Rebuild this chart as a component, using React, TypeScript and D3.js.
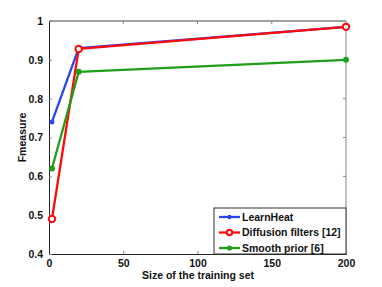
import React, { useEffect, useRef } from 'react';
import * as d3 from 'd3';

const trainSizes = [2, 20, 200];
const learnHeat = [0.74, 0.93, 0.985];
const diffusion = [0.49, 0.928, 0.985];
const smoothPrior = [0.62, 0.869, 0.9];
const xTicks = [0, 50, 100, 150, 200];
const yTicks = [0.4, 0.5, 0.6, 0.7, 0.8, 0.9, 1];

const FONT = '"Liberation Sans", Arial, sans-serif';

interface Series {
  name: string;
  values: number[];
  color: string;
  marker: 'star' | 'circle' | 'dot';
}

const series: Series[] = [
  { name: 'LearnHeat', values: learnHeat, color: '#2a45f5', marker: 'star' },
  { name: 'Diffusion filters [12]', values: diffusion, color: '#ff0a0a', marker: 'circle' },
  { name: 'Smooth prior [6]', values: smoothPrior, color: '#1f9e1a', marker: 'dot' },
];

function drawMarker(g: d3.Selection<SVGGElement, unknown, null, undefined>, s: Series, cx: number, cy: number, scale = 1) {
  if (s.marker === 'circle') {
    g.append('circle').attr('cx', cx).attr('cy', cy).attr('r', 3.2 * scale)
      .attr('fill', 'white').attr('stroke', s.color).attr('stroke-width', 2);
  } else if (s.marker === 'dot') {
    g.append('circle').attr('cx', cx).attr('cy', cy).attr('r', 3 * scale).attr('fill', s.color);
  } else {
    const r = 2.5 * scale;
    const p = `M${cx - r},${cy}L${cx + r},${cy}M${cx},${cy - r}L${cx},${cy + r}` +
      `M${cx - r * 0.7},${cy - r * 0.7}L${cx + r * 0.7},${cy + r * 0.7}` +
      `M${cx - r * 0.7},${cy + r * 0.7}L${cx + r * 0.7},${cy - r * 0.7}`;
    g.append('path').attr('d', p).attr('stroke', s.color).attr('stroke-width', 1.5).attr('fill', 'none');
  }
}

export default function App() {
  const svgRef = useRef<SVGSVGElement | null>(null);

  useEffect(() => {
    if (!svgRef.current) return;
    const W = 382;
    const H = 287;
    const M = { top: 21, right: 36, bottom: 33, left: 49 };
    const innerW = W - M.left - M.right;
    const innerH = H - M.top - M.bottom;

    const svg = d3.select(svgRef.current);
    svg.selectAll('*').remove();
    const g = svg.append('g').attr('transform', `translate(${M.left},${M.top})`);

    const x = d3.scaleLinear().domain([0, 200]).range([0, innerW]);
    const y = d3.scaleLinear().domain([0.4, 1]).range([innerH, 0]);

    // box
    g.append('line').attr('x1', 0).attr('x2', innerW).attr('y1', 0).attr('y2', 0).attr('stroke', '#444');
    g.append('line').attr('x1', innerW).attr('x2', innerW).attr('y1', 0).attr('y2', innerH).attr('stroke', '#888');

    const styleAxis = (s: d3.Selection<SVGGElement, unknown, null, undefined>) => {
      s.select('.domain').attr('stroke', '#222');
      s.selectAll('.tick line').attr('stroke', '#888');
      s.selectAll('text')
        .attr('fill', '#111')
        .attr('font-size', 10.5)
        .attr('font-weight', 'bold')
        .attr('font-family', FONT);
    };

    g.append('g')
      .attr('transform', `translate(0,${innerH})`)
      .call(d3.axisBottom(x).tickValues(xTicks).tickSize(-3).tickSizeOuter(0).tickPadding(6).tickFormat(d3.format('d')))
      .call(styleAxis);

    g.append('g')
      .call(d3.axisLeft(y).tickValues(yTicks).tickSize(-3).tickSizeOuter(0).tickPadding(6)
        .tickFormat(v => (Number(v) === 1 ? '1' : d3.format('.1f')(Number(v)))))
      .call(styleAxis);

    // right and top ticks
    g.selectAll('line.rt').data(yTicks.slice(1, -1)).enter().append('line')
      .attr('x1', innerW - 3).attr('x2', innerW).attr('y1', d => y(d)).attr('y2', d => y(d)).attr('stroke', '#888');
    g.selectAll('line.tt').data(xTicks.slice(1, -1)).enter().append('line')
      .attr('y1', 0).attr('y2', 3).attr('x1', d => x(d)).attr('x2', d => x(d)).attr('stroke', '#888');

    const line = d3.line<number>().x((_, i) => x(trainSizes[i])).y(d => y(d));

    series.forEach(s => {
      g.append('path').datum(s.values).attr('d', line)
        .attr('fill', 'none').attr('stroke', s.color).attr('stroke-width', 2.3)
        .attr('stroke-linejoin', 'round');
    });
    series.forEach(s => {
      s.values.forEach((v, i) => drawMarker(g, s, x(trainSizes[i]), y(v)));
    });

    // labels
    g.append('text')
      .attr('x', innerW / 2 + 0.5).attr('y', innerH + 25)
      .attr('text-anchor', 'middle')
      .attr('font-size', 10.5).attr('font-weight', 'bold').attr('font-family', FONT).attr('fill', '#111')
      .text('Size of the training set');
    g.append('text')
      .attr('transform', `translate(-23,${innerH / 2}) rotate(-90)`)
      .attr('text-anchor', 'middle')
      .attr('font-size', 10.5).attr('font-weight', 'bold').attr('font-family', FONT).attr('fill', '#111')
      .text('Fmeasure');

    // legend
    const lx = 165;
    const ly = 187;
    const lw = innerW - lx;
    const lh = innerH - ly;
    const leg = g.append('g').attr('transform', `translate(${lx},${ly})`);
    leg.append('rect').attr('width', lw).attr('height', lh).attr('fill', 'white').attr('stroke', '#333').attr('stroke-width', 1);
    series.forEach((s, i) => {
      const cy = 9 + i * 15.5;
      leg.append('line').attr('x1', 5).attr('x2', 26).attr('y1', cy).attr('y2', cy)
        .attr('stroke', s.color).attr('stroke-width', 2.3);
      drawMarker(leg, s, 15.5, cy, 0.85);
      leg.append('text').attr('x', 28).attr('y', cy).attr('dy', '0.35em')
        .attr('font-size', 10.5).attr('font-weight', 'bold').attr('font-family', FONT).attr('fill', '#111')
        .text(s.name);
    });
  }, []);

  return (
    <div style={{ position: 'absolute', left: 0, top: 0, width: 382, height: 287, background: 'white' }}>
      <svg ref={svgRef} width={382} height={287} style={{ display: 'block' }} />
    </div>
  );
}
